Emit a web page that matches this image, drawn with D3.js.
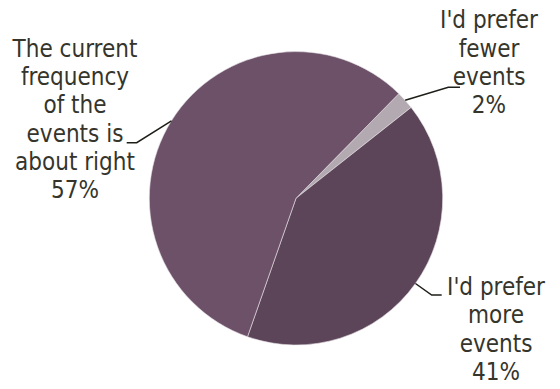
<!DOCTYPE html>
<html>
<head>
<meta charset="utf-8">
<script src="https://cdn.jsdelivr.net/npm/d3@7"></script>
<style>
html,body{margin:0;padding:0;background:#fff;}
svg{display:block;}
text{font-family:"DejaVu Sans Condensed","DejaVu Sans",sans-serif;font-stretch:condensed;}
</style>
</head>
<body>
<svg id="chart" width="560" height="389"></svg>
<script>
const categories = ["I'd prefer fewer events", "I'd prefer more events", "The current frequency of the events is about right"];
const values = [2, 41, 57];
const percentLabels = ["2%", "41%", "57%"];
const labelLines = [
  ["I'd prefer", "fewer", "events"],
  ["I'd prefer", "more", "events"],
  ["The current", "frequency", "of the", "events is", "about right"]
];
const colors = ["#b2a9b1", "#5c4459", "#6c5169"];

const svg = d3.select("#chart");
const cx = 296, cy = 198.3, R = 146.7;
const startDeg = 44.5;

const pie = d3.pie().sort(null).value(d => d)
  .startAngle(startDeg * Math.PI / 180)
  .endAngle((startDeg + 360) * Math.PI / 180);
const arcs = pie(values);
const arc = d3.arc().innerRadius(0).outerRadius(R);

const g = svg.append("g").attr("transform", `translate(${cx},${cy})`);
g.selectAll("path.slice").data(arcs).join("path")
  .attr("class", "slice")
  .attr("d", arc)
  .attr("fill", (d, i) => colors[i])
  .attr("stroke", "#e8e2e6")
  .attr("stroke-width", 0.6);

// label layout (text block center x, first baseline, line gap, leader elbow)
const fs = 24, lh = 28.3;
const layout = [
  {x: 489, y0: 28.3, elbow: [[460, 87.3], [448.3, 87.3]]},
  {x: 496, y0: 295, elbow: [[441.7, 295], [431.7, 295]]},
  {x: 75, y0: 56.7, elbow: [[126.7, 142.7], [136.7, 142.7]]}
];

const edgeArc = d3.arc().innerRadius(R).outerRadius(R);
arcs.forEach((a, i) => {
  const L = layout[i];
  const p = edgeArc.centroid(a);
  const pe = [p[0] + cx, p[1] + cy];
  const pts = [L.elbow[0], L.elbow[1], pe];
  svg.append("path")
    .attr("d", d3.line()(pts))
    .attr("fill", "none")
    .attr("stroke", "#1e1e18")
    .attr("stroke-width", 1.5);
  const lines = labelLines[i].concat([percentLabels[i]]);
  const t = svg.append("text")
    .attr("text-anchor", "middle")
    .attr("font-size", fs)
    .attr("fill", "#35352b");
  lines.forEach((s, k) => {
    t.append("tspan").attr("x", L.x).attr("y", L.y0 + k * lh).text(s);
  });
});
</script>
</body>
</html>
